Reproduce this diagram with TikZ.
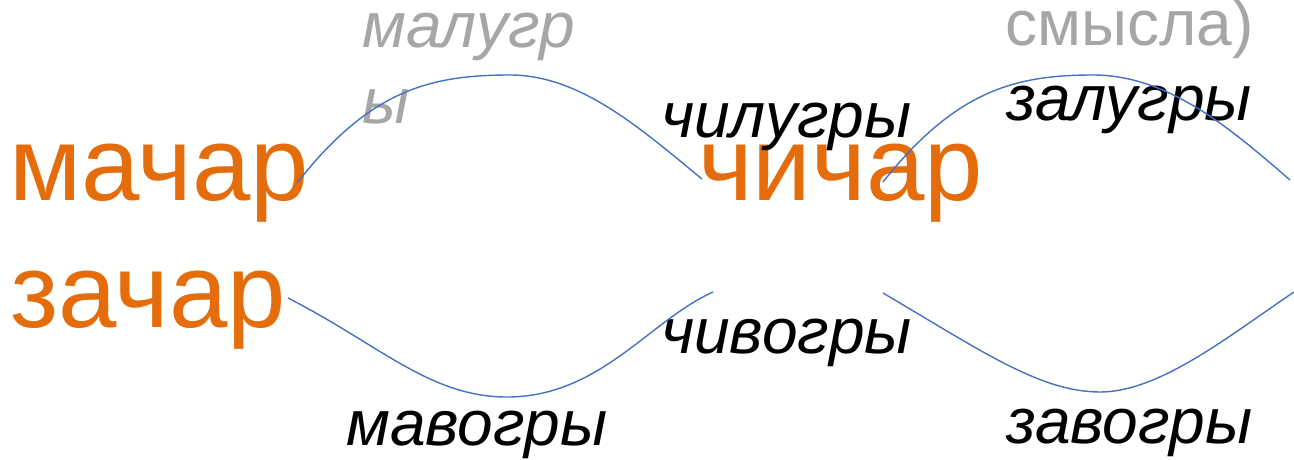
\documentclass[tikz,border=0pt]{standalone}
\usepackage{fontspec}
\setmainfont{Liberation Sans}
\definecolor{wordorange}{HTML}{E46C0A}
\definecolor{glossgray}{HTML}{A6A6A6}
\definecolor{arcblue}{HTML}{4472C4}

\begin{document}
\begin{tikzpicture}[x=1pt,y=-1pt,
        stem/.style={anchor=base west, inner sep=0pt, text=wordorange, font=\fontsize{105}{120}\selectfont},
        gloss/.style={anchor=base west, inner sep=0pt, font=\fontsize{64}{76}\selectfont\itshape},
        note/.style={anchor=base west, inner sep=0pt, text=glossgray, font=\fontsize{64}{76}\selectfont},
        arc/.style={arcblue, line width=1.4pt}]
        \useasboundingbox (0,0) rectangle (1294,459);

        % words
        \node[stem] (machar) at (9,200) {мачар};
        \node[stem] (zachar) at (10,327) {зачар};
        \node[stem] (chichar) at (698,200) {чичар};

        % glosses (the two-line one is placed by its last baseline)
        \node[gloss, text=glossgray, align=left] (malugry) at (362,123) {малугр\\ы};
        \node[note] (smysla) at (1005,45) {смысла)};
        \node[gloss] (chilugry) at (661,137) {чилугры};
        \node[gloss] (zalugry) at (1006,120) {залугры};
        \node[gloss] (chivogry) at (661,353) {чивогры};
        \node[gloss] (mavogry) at (346,445) {мавогры};
        \node[gloss] (zavogry) at (1006,443) {завогры};

        % arc ends
        \coordinate (tl1) at (297,183);
        \coordinate (tl2) at (702,179);
        \coordinate (tr1) at (883,182);
        \coordinate (tr2) at (1290,180);
        \coordinate (bl1) at (288,298);
        \coordinate (bl2) at (713,292);
        \coordinate (br1) at (883,293);
        \coordinate (br2) at (1294,292);

        \draw[arc] (tl1) .. controls (370,90) and (430,75) .. (510,75) .. controls (580,75) and (640,128) .. (tl2);
        \draw[arc] (tr1) .. controls (956,90) and (1016,75) .. (1093,75) .. controls (1168,75) and (1230,128) .. (tr2);
        \draw[arc] (bl1) .. controls (380,345) and (430,397) .. (507,397) .. controls (600,397) and (650,320) .. (bl2);
        \draw[arc] (br1) .. controls (980,350) and (1040,392) .. (1100,392) .. controls (1160,392) and (1230,335) .. (br2);
\end{tikzpicture}
\end{document}
